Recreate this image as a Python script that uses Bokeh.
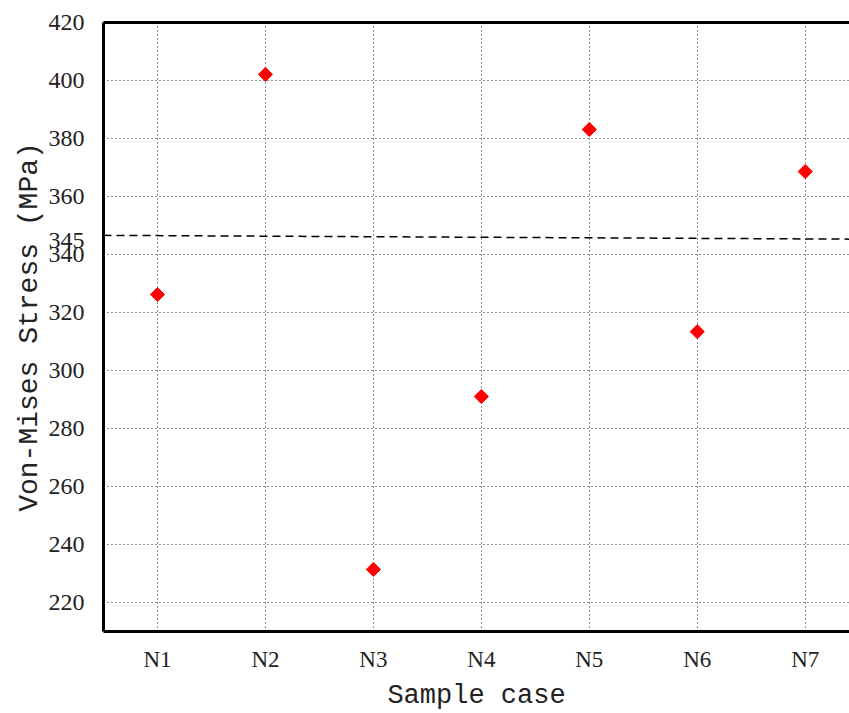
import numpy as np
from bokeh.plotting import figure
from bokeh.models import Range1d, FixedTicker, LinearAxis, AllLabels
from bokeh.embed import file_html
from bokeh.resources import INLINE

# ---- data ----
cases = ["N1", "N2", "N3", "N4", "N5", "N6", "N7"]
case_pos = [1, 2, 3, 4, 5, 6, 7]
stress = [326.2, 402.1, 231.4, 291.0, 383.1, 313.4, 368.6]
y_ticks = [220, 240, 260, 280, 300, 320, 340, 360, 380, 400, 420]
limit_label = "345"
limit_value = 345
limit_x = [0.5, 7.41]
limit_y = [346.6, 345.3]

TICK_FONT = "Liberation Serif"
TITLE_FONT = "Liberation Mono"

p = figure(width=849, height=713, output_backend="svg", toolbar_location=None,
           x_range=Range1d(0.5, 7.41), y_range=Range1d(210, 420),
           min_border_left=103, min_border_right=0, min_border_top=22, min_border_bottom=82)
p.outline_line_color = None
p.background_fill_color = "white"
p.border_fill_color = "white"

# ticks / grids
p.xaxis.ticker = FixedTicker(ticks=case_pos)
p.xaxis.major_label_overrides = {k: v for k, v in zip(case_pos, cases)}
p.yaxis.ticker = FixedTicker(ticks=sorted(y_ticks + [limit_value]))
p.yaxis.major_label_overrides = {limit_value: limit_label}
p.yaxis.major_label_policy = AllLabels()
p.xgrid.ticker = FixedTicker(ticks=case_pos)
p.ygrid.ticker = FixedTicker(ticks=y_ticks)
for g in (p.xgrid, p.ygrid):
    g.grid_line_color = "#222222"
    g.grid_line_dash = "1 3"
    g.grid_line_width = 1

for ax in (p.xaxis, p.yaxis):
    ax.axis_line_width = 3
    ax.axis_line_color = "black"
    ax.major_tick_line_color = None
    ax.minor_tick_line_color = None
    ax.major_label_text_font = TICK_FONT
    ax.major_label_text_color = "#222222"
    ax.axis_label_text_font = TITLE_FONT
    ax.axis_label_text_font_style = "normal"
    ax.axis_label_text_color = "#222222"

p.xaxis.major_label_text_font_size = "23px"
p.yaxis.major_label_text_font_size = "24px"
p.xaxis.major_label_standoff = 9
p.yaxis.major_label_standoff = 13
p.xaxis.axis_label = "Sample case"
p.yaxis.axis_label = "Von-Mises Stress (MPa)"
p.xaxis.axis_label_text_font_size = "27px"
p.yaxis.axis_label_text_font_size = "28px"
p.xaxis.axis_label_standoff = 6
p.yaxis.axis_label_standoff = 1

# top border line
top = LinearAxis(axis_line_width=3, axis_line_color="black",
                 major_tick_line_color=None, minor_tick_line_color=None,
                 major_label_text_font_size="0px", major_label_standoff=0)
top.ticker = FixedTicker(ticks=[])
p.add_layout(top, "above")

# threshold line
p.line(limit_x, limit_y, line_color="black", line_width=1.5, line_dash="8 5")

# points
p.scatter(case_pos, stress, marker="square", size=10, angle=np.pi / 4,
          fill_color="red", line_color="red")

open("out.html", "w").write(file_html(p, INLINE))
